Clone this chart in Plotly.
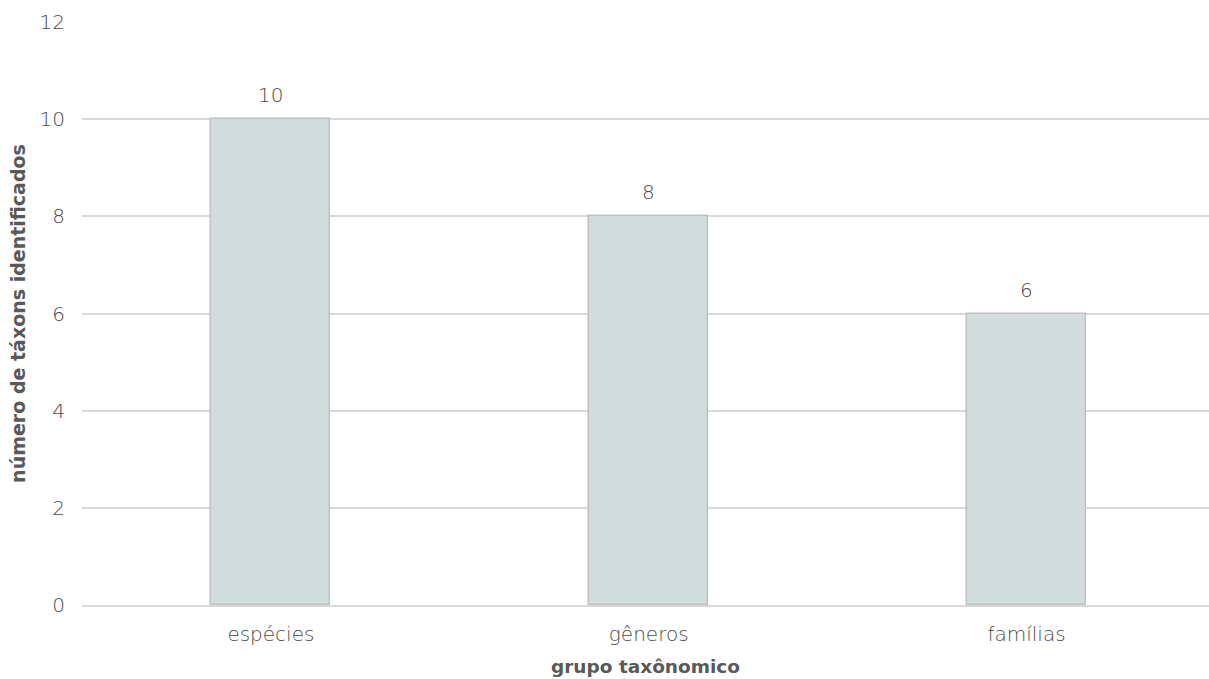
import plotly.graph_objects as go

# Número de táxons identificados por grupo taxonômico
grupos = ["espécies", "gêneros", "famílias"]
contagens = [10, 8, 6]
y_ticks = [0, 2, 4, 6, 8, 10, 12]

texto = "#595959"
texto_leve = "#4a4a4a"
fonte_leve = "DejaVu Sans"
fonte_titulo = "DejaVu Sans"

fig = go.Figure(
    go.Bar(
        x=grupos,
        y=contagens,
        marker=dict(color="#d3dcdd", line=dict(color="#bfbfbf", width=1.5)),
        width=0.315,
        cliponaxis=False,
    )
)

# rótulos de valor acima de cada barra
for g, v in zip(grupos, contagens):
    fig.add_annotation(
        x=g, y=v, text=str(v), showarrow=False,
        yanchor="bottom", yshift=10,
        font=dict(family=fonte_leve, size=20, color=texto_leve, weight=200),
    )

fig.update_layout(
    width=1209,
    height=679,
    margin=dict(l=82, r=0, t=22, b=74),
    plot_bgcolor="white",
    paper_bgcolor="white",
    font=dict(family=fonte_leve, color=texto, size=20),
    showlegend=False,
    bargap=0,
)

fig.update_xaxes(
    range=[-0.5, 2.483],
    showgrid=False,
    showline=True,
    linecolor="#d9d9d9",
    linewidth=1.5,
    ticks="",
    tickfont=dict(family=fonte_leve, size=20, color=texto_leve, weight=200),
    ticklabelstandoff=10,
    title=dict(
        text="grupo taxônomico",
        font=dict(family=fonte_titulo, size=18.5, color=texto, weight="bold"),
        standoff=15,
    ),
)

fig.update_yaxes(
    range=[0, 12],
    tickvals=y_ticks,
    showgrid=True,
    gridcolor="#d9d9d9",
    gridwidth=1.5,
    zeroline=False,
    showline=False,
    tickfont=dict(family=fonte_leve, size=20, color=texto_leve, weight=200),
    ticklabelstandoff=16,
    title=dict(
        text="número de táxons identificados",
        font=dict(family=fonte_titulo, size=19, color=texto, weight="bold"),
        standoff=8,
    ),
)

fig.write_html("out.html")
